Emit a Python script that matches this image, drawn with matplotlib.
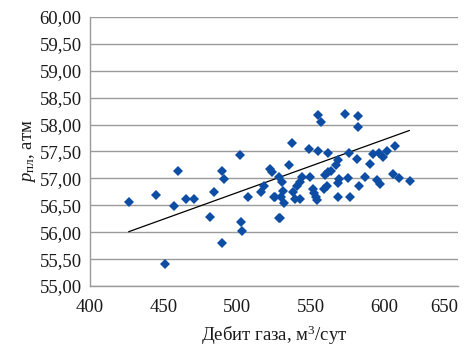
import matplotlib
matplotlib.use('Agg')
import matplotlib.pyplot as plt
from matplotlib.ticker import FuncFormatter, FixedLocator, MultipleLocator

# ── Data ──────────────────────────────────────────────────
gas_rate = [
    426.4, 444.6, 459.7, 457.0, 465.0, 470.4, 450.9, 484.5, 481.5, 490.0,
    491.0, 489.5, 501.9, 502.6, 503.0, 507.6, 516.5, 518.0, 522.6, 523.7,
    525.5, 528.2, 528.5, 530.7, 525.3, 529.6, 531.6, 531.2, 529.1, 535.5,
    536.9, 537.6, 539.6, 542.5, 540.7, 542.5, 543.9, 548.9, 549.5, 551.4,
    552.3, 553.3, 554.1, 555.0, 556.8, 555.0, 559.1, 560.7, 559.5, 561.8,
    563.6, 561.4, 567.0, 568.2, 568.2, 569.1, 568.6, 573.4, 575.9, 575.0,
    576.5, 581.8, 581.8, 581.3, 582.5, 586.5, 589.9, 592.0, 595.1, 597.0,
    596.3, 598.8, 602.0, 607.0, 605.8, 609.9, 617.4,
]
pressure = [
    56.56, 56.69, 57.14, 56.49, 56.62, 56.62, 55.41, 56.75, 56.29, 57.14,
    56.99, 55.79, 57.43, 56.19, 56.02, 56.66, 56.74, 56.85, 57.18, 57.11,
    56.66, 56.26, 57.02, 56.94, 56.66, 56.65, 56.54, 56.77, 56.26, 57.24,
    57.65, 56.75, 56.61, 56.62, 56.85, 56.93, 57.02, 57.54, 57.02, 56.80,
    56.72, 56.65, 56.60, 58.18, 58.05, 57.51, 56.80, 56.86, 57.06, 57.11,
    57.14, 57.47, 57.25, 57.34, 56.91, 56.99, 56.65, 58.20, 57.48, 57.00,
    56.65, 58.16, 57.95, 57.36, 56.85, 57.03, 57.27, 57.45, 56.97, 56.90,
    57.48, 57.40, 57.51, 57.61, 57.08, 57.00, 56.96,
]
trend_x = [426.4, 616.9]
trend_y = [56.01, 57.89]
x_ticks = [400, 450, 500, 550, 600, 650]

plt.rcParams['font.family'] = ['Liberation Serif', 'DejaVu Serif']
plt.rcParams['mathtext.fontset'] = 'custom'
plt.rcParams['mathtext.rm'] = 'Liberation Serif'
plt.rcParams['mathtext.it'] = 'Liberation Serif:italic'

fig = plt.figure(figsize=(4.68, 3.51), dpi=100)
ax = fig.add_axes([90 / 468, 1 - 286 / 351, 368 / 468, 269 / 351])

ax.plot(gas_rate, pressure, 'D', color='#0E4DA4', markersize=5.2,
        markeredgewidth=0, zorder=3)
ax.plot(trend_x, trend_y, color='black', lw=0.9, zorder=2)

ax.set_xlim(400, 650)
ax.set_ylim(55, 60)
ax.xaxis.set_major_locator(FixedLocator(x_ticks))
ax.yaxis.set_major_locator(MultipleLocator(0.5))
ax.yaxis.set_major_formatter(FuncFormatter(lambda v, p: f'{v:.2f}'.replace('.', ',')))
ax.grid(axis='y', color='#9a9a9a', lw=1.0)
ax.set_axisbelow(True)

for s in ('top', 'right'):
    ax.spines[s].set_visible(False)
for s in ('left', 'bottom'):
    ax.spines[s].set_color('#9a9a9a')
    ax.spines[s].set_linewidth(1.0)

ax.tick_params(length=0, labelsize=13.5, colors='#1a1a1a')
ax.tick_params(axis='x', pad=9)
ax.tick_params(axis='y', pad=6)

# last x label is pulled inside the figure, as in the reference
fig.canvas.draw()
ax.xaxis.get_major_ticks()[-1].label1.set_horizontalalignment('right')

ax.set_xlabel('Дебит газа, м$^3$/сут', fontsize=13.5, labelpad=6, color='#1a1a1a')
ax.set_ylabel(r'$p_{\mathrm{пл}}$, атм', fontsize=13.5, labelpad=1, color='#1a1a1a')

fig.savefig('out.png', dpi=100)
